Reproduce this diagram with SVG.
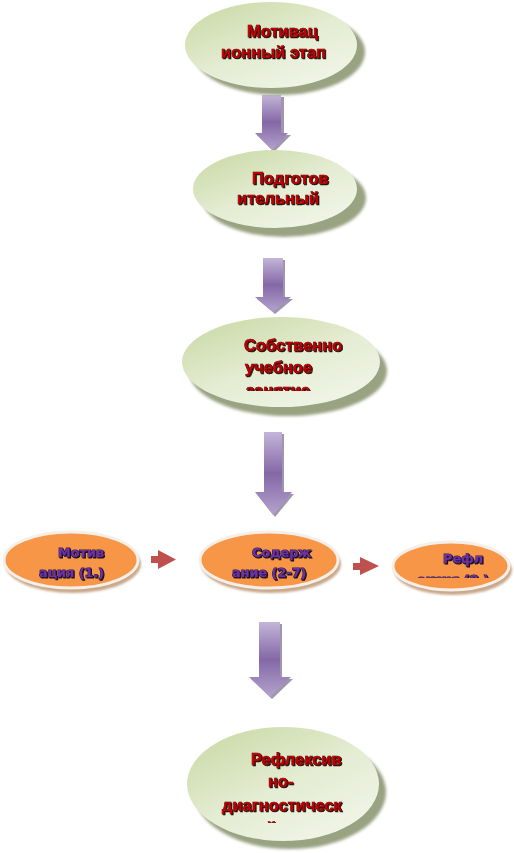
<svg xmlns="http://www.w3.org/2000/svg" width="514" height="853" viewBox="0 0 514 853">
<style>
.gt{font-family:"Liberation Sans",Arial,sans-serif;font-weight:bold;font-size:16.5px;fill:#C00000;stroke:#3a0000;stroke-width:0.7;paint-order:stroke;filter:url(#ts)}
.pt{font-family:"DejaVu Sans","Liberation Sans",sans-serif;font-weight:bold;font-size:12.8px;fill:#7030A0;stroke:#24184f;stroke-width:1.1;paint-order:stroke;filter:url(#ts)}
.green{fill:url(#gg)}
.gsh{fill:#99A281;filter:url(#blur)}
.orange{fill:#F79646;stroke:#F4EFE9;stroke-width:3}
.osh{fill:#C9A88A;filter:url(#blur1)}
.parrow{fill:url(#pg)}
.psh{fill:#5f4f7a;opacity:0.6}
.rarrow{fill:#C0504D}
</style>
<defs>
<linearGradient id="gg" x1="0" y1="0" x2="0.8" y2="1">
<stop offset="0" stop-color="#C7D7A0"/>
<stop offset="0.55" stop-color="#E4ECD2"/>
<stop offset="1" stop-color="#F1F5E9"/>
</linearGradient>
<linearGradient id="pg" x1="0" y1="0" x2="0" y2="1">
<stop offset="0" stop-color="#C3B5D8"/>
<stop offset="0.5" stop-color="#8468A6"/>
<stop offset="1" stop-color="#B4A3CD"/>
</linearGradient>
<filter id="blur" x="-10%" y="-10%" width="120%" height="120%"><feGaussianBlur stdDeviation="1.5"/></filter>
<filter id="blur1" x="-10%" y="-10%" width="120%" height="120%"><feGaussianBlur stdDeviation="1"/></filter>
<filter id="ts" x="-10%" y="-20%" width="120%" height="140%"><feDropShadow dx="1" dy="1" stdDeviation="0.3" flood-color="#000" flood-opacity="0.9"/></filter>
<clipPath id="c3"><rect x="180" y="300" width="210" height="91"/></clipPath>
<clipPath id="c5"><rect x="180" y="700" width="210" height="123"/></clipPath>
<clipPath id="cc"><rect x="385" y="530" width="130" height="48"/></clipPath>
</defs>

<g id="connectors">
<path class="psh" d="M265,97 H284 V135 H291 L274,152 L257,135 H265 Z"/>
<path class="parrow" d="M262,95 H281 V133 H288 L272,150 L255,133 H262 Z"/>
<path class="psh" d="M265,260 H285 V299 H293 L275,314 L257,299 H265 Z"/>
<path class="parrow" d="M263,258 H283 V297 H291 L273,312 L255,297 H263 Z"/>
<path class="psh" d="M266,434 H284 V494 H294 L275,517 L257,494 H266 Z"/>
<path class="parrow" d="M264,432 H282 V492 H292 L273,515 L255,492 H264 Z"/>
<path class="psh" d="M261,624 H282 V679 H293 L272,699 L251,679 H261 Z"/>
<path class="parrow" d="M259,622 H280 V677 H291 L270,697 L249,677 H259 Z"/>
<path class="rarrow" d="M151,556 H158 V550 L176,559.5 L158,569 V563 H151 Z"/>
<path class="rarrow" d="M353,563 H360 V557 L379,566 L360,575 V570 H353 Z"/>
</g>

<g id="node1">
<ellipse class="gsh" cx="279" cy="52" rx="86" ry="43"/>
<ellipse class="green" cx="271" cy="45" rx="86" ry="43"/>
<text class="gt" x="247" y="37">Мотивац</text>
<text class="gt" x="221" y="58">ионный этап</text>
</g>

<g id="node2">
<ellipse class="gsh" cx="284" cy="198" rx="82" ry="39"/>
<ellipse class="green" cx="275" cy="189" rx="82" ry="39"/>
<text class="gt" x="252" y="184">Подготов</text>
<text class="gt" x="237" y="204">ительный</text>
</g>

<g id="node3">
<ellipse class="gsh" cx="288" cy="371" rx="99" ry="45"/>
<ellipse class="green" cx="281" cy="362" rx="99" ry="45"/>
<g clip-path="url(#c3)">
<text class="gt" x="244" y="351">Собственно</text>
<text class="gt" x="245" y="373">учебное</text>
<text class="gt" x="246" y="396">занятие</text>
</g>
</g>

<g id="nodeA">
<ellipse class="osh" cx="73" cy="564" rx="68" ry="29"/>
<ellipse class="orange" cx="71" cy="560" rx="67" ry="28"/>
<text class="pt" x="58" y="557">Мотив</text>
<text class="pt" x="39" y="577">ация (1.)</text>
</g>

<g id="nodeB">
<ellipse class="osh" cx="271" cy="564" rx="70" ry="29"/>
<ellipse class="orange" cx="269" cy="560" rx="69" ry="28"/>
<text class="pt" x="252" y="557">Содерж</text>
<text class="pt" x="232" y="577">ание (2-7)</text>
</g>

<g id="nodeC">
<ellipse class="osh" cx="453" cy="570" rx="59" ry="25"/>
<ellipse class="orange" cx="451" cy="566" rx="58" ry="24"/>
<g clip-path="url(#cc)">
<text class="pt" x="443" y="563">Рефл</text>
<text class="pt" x="417" y="584">ексия (8.)</text>
</g>
</g>

<g id="node5">
<ellipse class="gsh" cx="290" cy="792" rx="96" ry="57"/>
<ellipse class="green" cx="283" cy="784" rx="96" ry="57"/>
<g clip-path="url(#c5)">
<text class="gt" x="251" y="765">Рефлексив</text>
<text class="gt" x="268" y="787">но-</text>
<text class="gt" x="222" y="811">диагностическ</text>
<text class="gt" x="256" y="834">ий</text>
</g>
</g>
</svg>
